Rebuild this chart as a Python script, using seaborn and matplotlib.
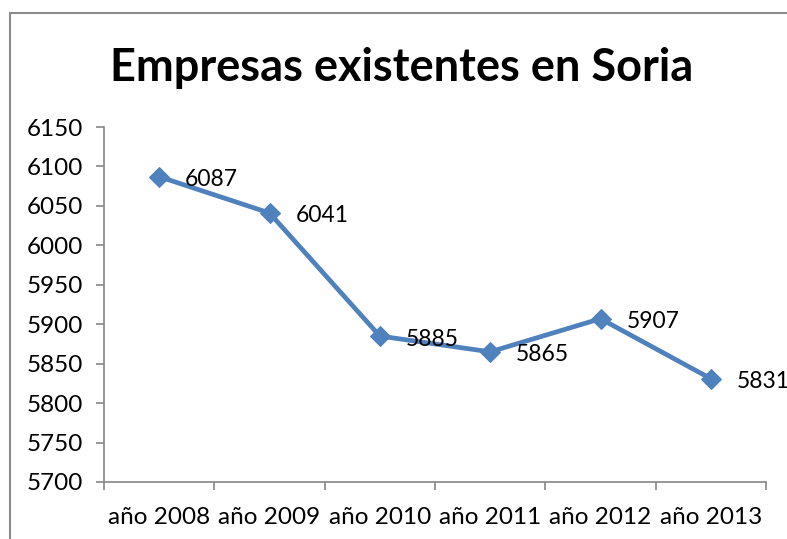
import numpy as np
import seaborn as sns
import matplotlib.pyplot as plt
import pandas as pd
from matplotlib.lines import Line2D
from matplotlib.ticker import FixedLocator

anios = ['año 2008', 'año 2009', 'año 2010', 'año 2011', 'año 2012', 'año 2013']
empresas = [6087, 6041, 5885, 5865, 5907, 5831]
y_ticks = [5700, 5750, 5800, 5850, 5900, 5950, 6000, 6050, 6100, 6150]

sns.set_style('white')
plt.rcParams['font.family'] = ['Lato', 'DejaVu Sans']
plt.rcParams['text.color'] = 'black'
plt.rcParams['xtick.labelcolor'] = 'black'
plt.rcParams['ytick.labelcolor'] = 'black'

df = pd.DataFrame({'anio': anios, 'empresas': empresas})

fig = plt.figure(figsize=(7.87, 5.39), dpi=100)
ax = fig.add_axes([104/787, 1 - 482/539, (766 - 104)/787, (482 - 127)/539])

azul = '#4F81BD'
sns.lineplot(data=df, x='anio', y='empresas', ax=ax, color=azul, linewidth=3.4,
             marker='D', markersize=10.5, markeredgecolor=azul, sort=False)

for i, v in enumerate(empresas):
    ax.annotate(str(v), (i, v), xytext=(26, -3), textcoords='offset pixels',
                ha='left', va='center', fontsize=16.5, color='black')

ax.set_xlim(-0.5, 5.5)
ax.set_ylim(5700, 6150)
ax.set_yticks(y_ticks)
ax.set_xlabel('')
ax.set_ylabel('')

ax.xaxis.set_minor_locator(FixedLocator(np.arange(-0.5, 6, 1)))
ax.tick_params(axis='x', which='major', length=0, pad=18, labelsize=17.5)
ax.tick_params(axis='x', which='minor', length=6, width=1.2, color='#868686', direction='out')
ax.tick_params(axis='y', which='major', length=6, width=1.2, color='#868686',
               direction='out', labelsize=17.5, pad=9)
ax.tick_params(bottom=True, left=True, which='both')

for s in ['top', 'right']:
    ax.spines[s].set_visible(False)
for s in ['left', 'bottom']:
    ax.spines[s].set_color('#868686')
    ax.spines[s].set_linewidth(1.2)

fig.text(402/787, 1 - 68/539, 'Empresas existentes en Soria', ha='center', va='center',
         fontsize=32.5, fontweight='bold', color='black')

# marco del grafico
fig.add_artist(Line2D([9.5/787, 9.5/787], [0, 1 - 13/539], color='#8c8c8c', lw=1.5))
fig.add_artist(Line2D([9.5/787, 1], [1 - 13/539, 1 - 13/539], color='#8c8c8c', lw=1.5))

fig.savefig('out.png', dpi=100)
